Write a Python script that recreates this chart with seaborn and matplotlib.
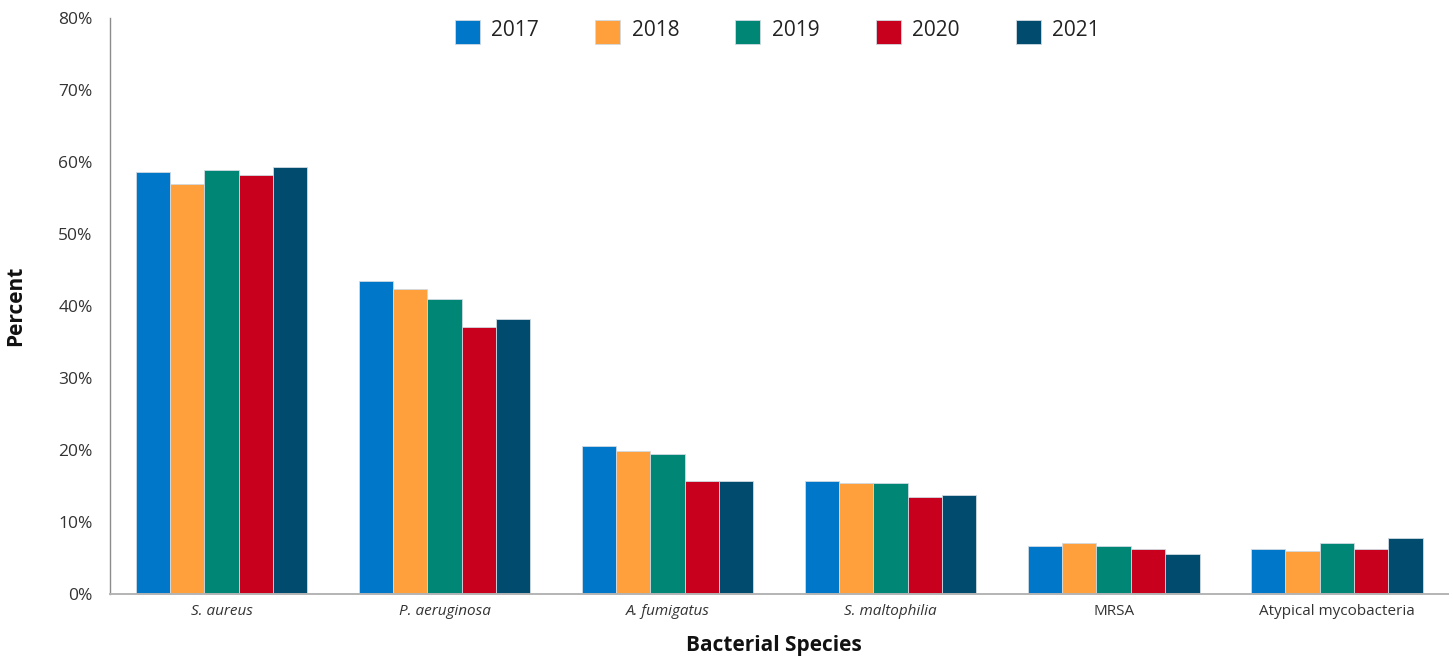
import matplotlib
matplotlib.use("Agg")
import matplotlib.pyplot as plt
import seaborn as sns
import pandas as pd
from matplotlib.ticker import FuncFormatter
from matplotlib.patches import Patch, Rectangle
from matplotlib.legend_handler import HandlerPatch

species = ["S. aureus", "P. aeruginosa", "A. fumigatus", "S. maltophilia",
           "MRSA", "Atypical mycobacteria"]
italic_species = ["S. aureus", "P. aeruginosa", "A. fumigatus", "S. maltophilia"]
years = ["2017", "2018", "2019", "2020", "2021"]

pct_2017 = [58.6, 43.5, 20.6, 15.7, 6.7, 6.3]
pct_2018 = [57.0, 42.4, 19.9, 15.4, 7.1, 6.0]
pct_2019 = [58.9, 41.0, 19.5, 15.4, 6.7, 7.1]
pct_2020 = [58.2, 37.1, 15.7, 13.5, 6.3, 6.3]
pct_2021 = [59.3, 38.2, 15.7, 13.8, 5.6, 7.8]

year_colors = ["#0077C8", "#FFA03C", "#008675", "#C8001E", "#004B6E"]

series = [pct_2017, pct_2018, pct_2019, pct_2020, pct_2021]
rows = []
for yr, vals in zip(years, series):
    for sp, v in zip(species, vals):
        rows.append({"species": sp, "year": yr, "percent": v})
df = pd.DataFrame(rows)

sns.set_style("white")
plt.rcParams["font.family"] = ["Open Sans", "DejaVu Sans"]

fig = plt.figure(figsize=(14.53, 6.62), dpi=100)
ax = fig.add_axes([0.0757, 0.1027, 0.9210, 0.8701])

sns.barplot(data=df, x="species", y="percent", hue="year", order=species,
            hue_order=years, palette=year_colors, saturation=1, width=0.77,
            gap=0, edgecolor="#d0dae2", linewidth=0.6, errorbar=None, ax=ax,
            legend=False)

ax.set_ylim(0, 80)
ax.set_xlim(-0.5, 5.5)
ax.set_yticks(range(0, 81, 10))
ax.yaxis.set_major_formatter(FuncFormatter(lambda v, _: f"{int(v)}%"))

for side in ["top", "right"]:
    ax.spines[side].set_visible(False)
ax.spines["left"].set_color("#8c8c8c")
ax.spines["bottom"].set_color("#b4b4b4")
ax.spines["left"].set_linewidth(1.0)
ax.spines["bottom"].set_linewidth(1.4)

ax.tick_params(axis="y", length=6.5, width=0.8, color="#8c8c8c",
               labelsize=12.5, labelcolor="#333333", pad=6)
ax.tick_params(axis="x", length=0, labelsize=11, labelcolor="#333333", pad=7)

for lbl in ax.get_xticklabels():
    if lbl.get_text() in italic_species:
        lbl.set_fontstyle("italic")

ax.set_xlabel("Bacterial Species", fontsize=15, fontweight="bold",
              color="#111111", labelpad=12)
ax.xaxis.set_label_coords(0.496, -0.072)
ax.set_ylabel("Percent", fontsize=15, fontweight="bold",
              color="#111111", labelpad=23)


def square_key(legend, orig_handle, xdescent, ydescent, width, height, fontsize):
    # fixed-size key, sitting slightly below the label text
    return Rectangle((-xdescent, -ydescent - 3.5), 18, 17.3)


handles = [Patch(facecolor=c, edgecolor="#d0dae2", linewidth=0.6)
           for c in year_colors]
fig.legend(handles, years, loc="center", bbox_to_anchor=(0.535, 0.955),
           ncol=5, frameon=False, fontsize=15, handlelength=1.2,
           handleheight=1.15, handletextpad=0.55, columnspacing=2.7,
           labelcolor="#222222",
           handler_map={Patch: HandlerPatch(patch_func=square_key)})

fig.savefig("out.png", dpi=100, facecolor="white")
